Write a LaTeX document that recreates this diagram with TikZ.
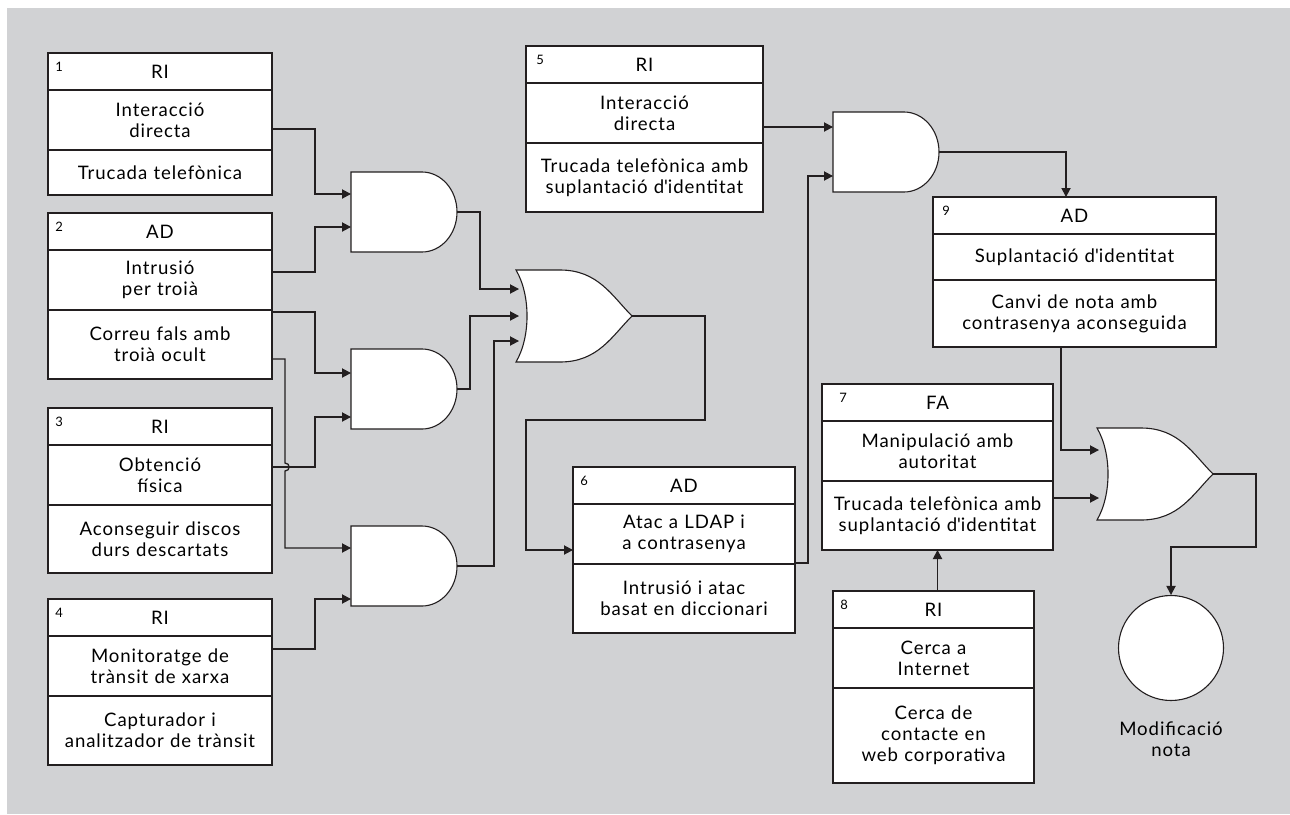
\documentclass[tikz,border=0pt]{standalone}
\usepackage{fontspec}
\setmainfont{Lato}[LetterSpace=5]
\usepackage{tikz}
\usetikzlibrary{arrows.meta,positioning,calc}
\definecolor{bggray}{RGB}{209,210,212}
\definecolor{ink}{RGB}{35,31,32}

\begin{document}
\begin{tikzpicture}[
    x=0.5pt, y=-0.5pt,
    cell/.style={rectangle, draw=ink, fill=white, line width=0.85pt, inner sep=0pt, outer sep=0pt, align=center, font=\fontsize{9.3}{10.6}\selectfont},
    hd/.style={cell, minimum height=18.5pt},
    mid/.style={cell, minimum height=30pt},
    num/.style={anchor=north west, inner sep=0pt, font=\fontsize{6.5}{7}\selectfont},
    gate/.style={draw=ink, fill=white, line width=0.55pt},
    wire/.style={draw=ink, line width=0.65pt},
    arr/.style={wire, -{Triangle[length=4.5pt,width=4.6pt]}},
    andg/.pic={
        \draw[gate] (0,-40) -- (71,-40) .. controls (90.3,-40) and (106,-22.1) .. (106,0)
            .. controls (106,22.1) and (90.3,40) .. (71,40) -- (0,40) -- cycle;
        \coordinate (-w) at (0,0);
        \coordinate (-out) at (106,0);
    },
    org/.pic={
        \draw[gate] (0,-46) -- (44,-46) .. controls (82,-46) and (96,-20) .. (116,0)
            .. controls (96,20) and (82,46) .. (44,46) -- (0,46)
            .. controls (14.7,21) and (14.7,-21) .. (0,-46) -- cycle;
        \coordinate (-w) at (0,0);
        \coordinate (-out) at (116,0);
    }
]
\useasboundingbox (0,0) rectangle (1290,814);
\fill[bggray] (7,8) rectangle (1290,814);

% attack boxes, left column
\node[hd, text width=112pt, anchor=north west] (b1h) at (48,53) {RI};
\node[mid, text width=112pt, below=0pt of b1h] (b1m) {Interacció\\directa};
\node[cell, text width=112pt, minimum height=22.5pt, below=0pt of b1m] (b1b) {Trucada telefònica};
\node[num] (n1) at ($(b1h.north west)+(7,9)$) {1};

\node[hd, text width=112pt, anchor=north west] (b2h) at (48,213) {AD};
\node[mid, text width=112pt, below=0pt of b2h] (b2m) {Intrusió\\per troià};
\node[cell, text width=112pt, minimum height=34.5pt, below=0pt of b2m] (b2b) {Correu fals amb\\troià ocult};
\node[num] (n2) at ($(b2h.north west)+(7,9)$) {2};

\node[hd, text width=112pt, anchor=north west] (b3h) at (48,408) {RI};
\node[mid, text width=112pt, below=0pt of b3h] (b3m) {Obtenció\\física};
\node[cell, text width=112pt, minimum height=34pt, below=0pt of b3m] (b3b) {Aconseguir discos\\durs descartats};
\node[num] (n3) at ($(b3h.north west)+(7,9)$) {3};

\node[hd, text width=112pt, anchor=north west] (b4h) at (48,599) {RI};
\node[mid, text width=112pt, below=0pt of b4h] (b4m) {Monitoratge de\\trànsit de xarxa};
\node[cell, text width=112pt, minimum height=34.5pt, below=0pt of b4m] (b4b) {Capturador i\\analitzador de trànsit};
\node[num] (n4) at ($(b4h.north west)+(7,9)$) {4};

% attack boxes, middle and right
\node[hd, text width=118.5pt, anchor=north west] (b5h) at (526,46) {RI};
\node[mid, text width=118.5pt, below=0pt of b5h] (b5m) {Interacció\\directa};
\node[cell, text width=118.5pt, minimum height=34.5pt, below=0pt of b5m] (b5b) {Trucada telefònica amb\\suplantació d\textquotesingle identitat};
\node[num] (n5) at ($(b5h.north west)+(10,9)$) {5};

\node[hd, text width=111pt, anchor=north west] (b6h) at (573,467) {AD};
\node[mid, text width=111pt, below=0pt of b6h] (b6m) {Atac a LDAP i\\a contrasenya};
\node[cell, text width=111pt, minimum height=34.5pt, below=0pt of b6m] (b6b) {Intrusió i atac\\basat en diccionari};
\node[num] (n6) at ($(b6h.north west)+(7,9)$) {6};

\node[hd, text width=115.5pt, anchor=north west] (b7h) at (822,384) {FA};
\node[mid, text width=115.5pt, below=0pt of b7h] (b7m) {Manipulació amb\\autoritat};
\node[cell, text width=115.5pt, minimum height=34.5pt, below=0pt of b7m] (b7b) {Trucada telefònica amb\\suplantació d\textquotesingle identitat};
\node[num] (n7) at ($(b7h.north west)+(17,9)$) {7};

\node[hd, text width=100.5pt, anchor=north west] (b8h) at (833,591) {RI};
\node[mid, text width=100.5pt, below=0pt of b8h] (b8m) {Cerca a\\Internet};
\node[cell, text width=100.5pt, minimum height=47.5pt, below=0pt of b8m] (b8b) {Cerca de\\contacte en\\web corporativa};
\node[num] (n8) at ($(b8h.north west)+(7,9)$) {8};

\node[hd, text width=141.5pt, anchor=north west] (b9h) at (933,197) {AD};
\node[cell, text width=141.5pt, minimum height=23pt, below=0pt of b9h] (b9m) {Suplantació d\textquotesingle identitat};
\node[cell, text width=141.5pt, minimum height=33.5pt, below=0pt of b9m] (b9b) {Canvi de nota amb\\contrasenya aconseguida};
\node[num] (n9) at ($(b9h.north west)+(9,9)$) {9};

% gates
\pic (and1) at (351,212) {andg};
\pic (and2) at (351,389) {andg};
\pic (and3) at (351,566) {andg};
\pic (and4) at (833,152) {andg};
\pic (or1) at (516,316) {org};
\pic (or2) at (1097,474) {org};

% goal
\node[circle, draw=ink, fill=white, line width=0.55pt, minimum size=52.5pt, inner sep=0pt] (goal) at (1171,648) {};
\node[align=center, inner sep=0pt, font=\fontsize{9.3}{10.6}\selectfont] (goaltxt) at (1171,739) {Modificació\\nota};

% wires
\coordinate (hop) at ($(b3m.east)+(13,-8)$);
\draw[arr] ($(b1m.east)+(0,9)$) -| ($(and1-w)+(-36,-18)$) -- ($(and1-w)+(0,-18)$);
\draw[arr] ($(b2m.east)+(0,-8)$) -| ($(and1-w)+(-36,15)$) -- ($(and1-w)+(0,15)$);
\draw[arr] ($(b2b.north east)+(0,2)$) -| ($(and2-w)+(-36,-16)$) -- ($(and2-w)+(0,-16)$);
\draw[arr] ($(b2b.east)+(0,14.5)$) -| ($(hop)+(0,-4)$) .. controls +(5.5,0) and +(5.5,0) .. ($(hop)+(0,4)$) |- ($(and3-w)+(0,-18)$);
\draw[arr] ($(b3m.east)+(0,-8)$) -| ($(and2-w)+(-36,28)$) -- ($(and2-w)+(0,28)$);
\draw[arr] ($(b4m.east)+(0,-17)$) -| ($(and3-w)+(-36,33)$) -- ($(and3-w)+(0,33)$);
\draw[arr] (and1-out) -| ($(or1-w)+(-36,-27)$) -- ($(or1-w)+(3,-27)$);
\draw[arr] (and2-out) -| ($(or1-w)+(-46,0)$) -- ($(or1-w)+(3,0)$);
\draw[arr] (and3-out) -| ($(or1-w)+(-22,25)$) -- ($(or1-w)+(3,25)$);
\draw[arr] (or1-out) -| ($(or1-out)+(73,104)$) -| ($(b6m.west)+(-47,16)$) -- ($(b6m.west)+(0,16)$);
\draw[arr] ($(b6b.north east)+(0,-1)$) -| ($(and4-w)+(-25,24)$) -- ($(and4-w)+(0,24)$);
\draw[arr] ($(b5m.east)+(0,14)$) -- ($(and4-w)+(0,-25)$);
\draw[arr] (and4-out) -| ($(b9h.north)+(-8.5,0)$);
\draw[arr] ($(b9b.south)+(-13.5,0)$) |- ($(or2-w)+(2,-24)$);
\draw[arr] ($(b7b.east)+(0,-17.5)$) -- ($(or2-w)+(2,24)$);
\draw[arr] (b8h.north -| b7b.south) -- (b7b.south);
\draw[arr] (or2-out) -| ($(or2-out)+(43,73)$) -| (goal.north);
\end{tikzpicture}
\end{document}
